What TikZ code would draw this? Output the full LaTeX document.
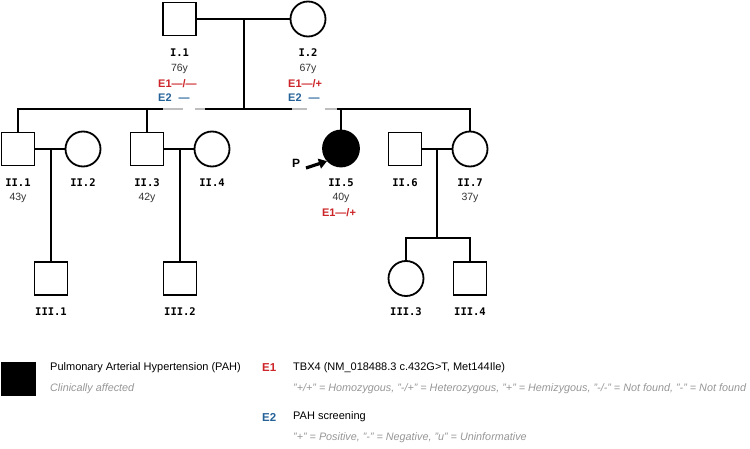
\documentclass[tikz,border=0pt]{standalone}
\usepackage{fontspec}
\setmainfont{Liberation Sans}
\newfontfamily\idfont{DejaVu Sans Mono}
\usetikzlibrary{arrows.meta}
\definecolor{eonered}{RGB}{204,36,40}
\definecolor{etwoblue}{RGB}{36,98,152}
\definecolor{notegray}{RGB}{150,150,150}
\definecolor{linegray}{RGB}{190,190,190}
\tikzset{
  male/.style={draw, line width=1.8pt, minimum size=33pt, inner sep=0pt},
  female/.style={draw, circle, line width=1.8pt, minimum size=35pt, inner sep=0pt},
  link/.style={line width=1.8pt},
  pid/.style={font=\idfont\bfseries\fontsize{10.5}{12}\selectfont, inner sep=0pt},
  age/.style={font=\fontsize{10.5}{12}\selectfont, text=black!80, inner sep=0pt},
  eone/.style={font=\bfseries\fontsize{11}{12}\selectfont, text=eonered, inner sep=0pt, anchor=west},
  etwo/.style={font=\bfseries\fontsize{11}{12}\selectfont, text=etwoblue, inner sep=0pt, anchor=west},
  keytext/.style={font=\fontsize{11}{13}\selectfont, inner sep=0pt, anchor=west},
  keynote/.style={font=\itshape\fontsize{10.8}{13}\selectfont, text=notegray, inner sep=0pt, anchor=west}
}
\begin{document}
\begin{tikzpicture}[x=1pt, y=-1pt]
      \useasboundingbox (0,0) rectangle (750,449);

      \node[male] (I1) at (179.5,19){};
      \node[female] (I2) at (308,19){};
      \node[pid] (I1id) at (179.5,53){I.1};
      \node[age] (I1age) at (179.5,69){76y};
      \node[eone] (I1e1) at (158,84){E1---/---};
      \node[etwo] (I1e2) at (158,98){E2\hspace{7pt}---};
      \node[pid] (I2id) at (308,53){I.2};
      \node[age] (I2age) at (308,69){67y};
      \node[eone] (I2e1) at (288,84){E1---/+};
      \node[etwo] (I2e2) at (288,98){E2\hspace{7pt}---};

      \node[male] (II1) at (18,149){};
      \node[female] (II2) at (83,149){};
      \node[male] (II3) at (147,149){};
      \node[female] (II4) at (212,149){};
      \node[female, fill=black, minimum size=36pt] (II5) at (341,148.5){};
      \node[male] (II6) at (405,149){};
      \node[female] (II7) at (470,149){};

      \node[pid] (II1id) at (18,183){II.1};
      \node[age] (II1age) at (18,198){43y};
      \node[pid] (II2id) at (83,183){II.2};
      \node[pid] (II3id) at (147,183){II.3};
      \node[age] (II3age) at (147,198){42y};
      \node[pid] (II4id) at (212,183){II.4};
      \node[pid] (II5id) at (341,183){II.5};
      \node[age] (II5age) at (341,198){40y};
      \node[eone, anchor=center] (II5e1) at (339,213){E1---/+};
      \node[pid] (II6id) at (405,183){II.6};
      \node[pid] (II7id) at (470,183){II.7};
      \node[age] (II7age) at (470,198){37y};

      \node[male] (III1) at (51,278.5){};
      \node[male] (III2) at (180,278.5){};
      \node[female] (III3) at (406,278.5){};
      \node[male] (III4) at (470,278.5){};
      \node[pid] (III1id) at (51,312){III.1};
      \node[pid] (III2id) at (180,312){III.2};
      \node[pid] (III3id) at (406,312){III.3};
      \node[pid] (III4id) at (470,312){III.4};

      \node[font=\bfseries\fontsize{12}{12}\selectfont, inner sep=0pt] (prob) at (296,163){P};
      \coordinate (ptail) at (306,168);
      \draw[line width=3.2pt, -{Triangle[length=8pt, width=10pt]}] (ptail) to (II5.222);

      \coordinate (m1) at (244,19);
      \coordinate (s1) at (244,109);
      \coordinate (gA) at (163,109);
      \coordinate (gB) at (183,109);
      \coordinate (gC) at (195,109);
      \coordinate (gD) at (205,109);
      \coordinate (gE) at (292,109);
      \coordinate (gF) at (307,109);
      \coordinate (gG) at (325,109);
      \coordinate (gH) at (337,109);
      \draw[link] (I1.east) to (I2.west);
      \draw[link] (m1) to (s1);
      \draw[link] (II1.north) |- (gA);
      \draw[link] (II3.north) to (II3.north |- gA);
      \draw[link, linegray] (gA) to (gB);
      \draw[link, linegray] (gC) to (gD);
      \draw[link] (gD) to (gE);
      \draw[link, linegray] (gE) to (gF);
      \draw[link, linegray] (gG) to (gH);
      \draw[link] (gH) -| (II7.north);
      \draw[link] (II5.north) to (II5.north |- gH);

      \draw[link] (II1.east) to (II2.west);
      \draw[link] (III1.north) to (III1.north |- II1.east);
      \draw[link] (II3.east) to (II4.west);
      \draw[link] (III2.north) to (III2.north |- II3.east);

      \coordinate (m7) at (437,149);
      \coordinate (s7) at (437,238);
      \draw[link] (II6.east) to (II7.west);
      \draw[link] (m7) to (s7);
      \draw[link] (III3.north) |- (s7) -| (III4.north);

      \node[fill=black, minimum width=35pt, minimum height=34pt, inner sep=0pt] (affkey) at (18.5,379){};
      \node[keytext] (afftext) at (50,368){Pulmonary Arterial Hypertension (PAH)};
      \node[keynote] (affnote) at (50,389){Clinically affected};
      \node[eone, font=\bfseries\fontsize{11.5}{13}\selectfont] (e1key) at (262,368){E1};
      \node[keytext] (e1text) at (293,368){TBX4 (NM\_018488.3 c.432G>T, Met144Ile)};
      \node[keynote] (e1note) at (293,389){"+/+" = Homozygous, "-/+" = Heterozygous, "+" = Hemizygous, "-/-" = Not found, "-" = Not found};
      \node[etwo, font=\bfseries\fontsize{11.5}{13}\selectfont] (e2key) at (262,417){E2};
      \node[keytext] (e2text) at (293,417){PAH screening};
      \node[keynote] (e2note) at (293,438){"+" = Positive, "-" = Negative, "u" = Uninformative};
    \end{tikzpicture}
\end{document}
